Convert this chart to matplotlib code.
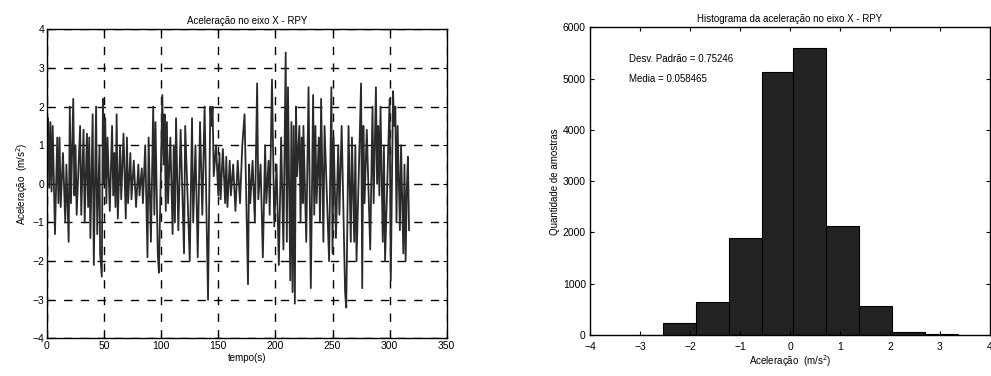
import numpy as np
import matplotlib
matplotlib.use("Agg")
import matplotlib.pyplot as plt

plt.rcParams['font.family'] = ['Liberation Sans', 'DejaVu Sans']

# picos e vales (tempo em s, aceleracao em m/s^2)
tempo = [0, 1, 2, 3, 4, 5, 7, 9, 10, 11, 12, 14, 16, 17, 19, 20, 21, 23, 24, 25, 26,
         29, 30, 32, 33, 35, 36, 37, 38, 40, 41, 43, 44, 46, 46.5, 48, 49, 50, 51, 52,
         53, 55, 57, 58, 59, 60, 61, 62, 64, 65, 67, 69, 70, 71, 73, 74, 76, 78, 80, 81,
         83, 84, 86, 88, 89, 91, 93, 94, 95, 97, 98, 101, 102, 103, 104, 105, 106, 108,
         110, 111, 112, 113, 115, 117, 120, 121, 125, 127, 128, 130, 132, 134, 136, 138,
         141, 143, 144, 145, 146, 148, 150, 151, 152, 154, 156, 157, 158, 160, 161, 163,
         165, 167, 169, 171, 173, 176, 177, 178, 180, 182, 184, 185, 187, 189, 191, 192,
         194, 195, 197, 199, 201, 203, 205, 207, 209, 210, 211, 213, 214, 215, 216, 217,
         218, 219, 221, 222, 223, 224, 224.5, 227, 229, 231, 233, 234, 235, 236, 238, 239,
         240, 242, 243, 247, 249, 250, 251, 253, 255, 256, 258, 261, 262, 263, 264, 266,
         267, 269, 270, 271, 275, 276, 277, 278, 280, 283, 285, 286, 288, 289, 290, 291,
         292, 294, 295, 296, 300, 301, 303, 304, 305, 306, 307, 309, 310, 312, 313, 314,
         315, 316, 317]
acel = [0.5, 1.7, -0.1, 1.6, -0.2, 1.5, -1.3, 1.2, -0.5, 1.2, -0.6, 0.8, -1.0, 0.5, -1.5,
        2.0, -0.5, 2.2, -0.3, 1.0, -0.8, 1.5, -0.8, 1.4, -1.0, 1.3, -0.6, 1.2, -1.4, 1.8,
        -2.1, 2.0, -1.3, 1.0, -1.8, -2.4, 2.2, 0.0, 1.7, -0.5, 1.2, -0.7, 1.5, -0.3, 0.8,
        -0.6, 1.8, -0.9, 1.0, -0.4, 1.3, -0.9, 1.2, -0.5, 0.8, -0.4, 0.6, -0.6, 0.5, -0.3,
        0.4, -0.5, 1.0, -1.9, 1.2, -1.5, 2.0, -0.8, 1.6, -1.8, -2.3, 2.3, 0.5, 1.8, -0.7,
        1.6, -0.5, 1.2, -1.3, 1.0, -1.0, 1.7, -1.2, 1.4, -1.8, 1.5, -2.0, 1.7, -1.0, 1.0,
        -1.9, 1.6, -0.8, 2.0, -3.0, 2.0, 1.5, 2.0, 0.2, 1.0, -0.3, 0.8, -0.4, 0.9, -0.5,
        0.7, -0.6, 0.6, -0.3, 0.5, -0.7, 0.6, -0.5, 1.0, 1.8, -2.6, 0.5, -0.5, 0.6, -1.0,
        2.6, -0.4, 0.5, -1.9, 1.0, -0.5, 0.6, -0.8, 2.7, -1.1, 0.5, -2.1, 1.2, -1.7, 3.4,
        -1.5, 2.5, -2.5, 1.6, -2.8, 1.5, -3.1, 2.0, 0.2, 1.5, -1.0, 1.2, -0.5, 1.5, -1.5,
        2.5, -2.7, 2.3, -0.8, 1.5, -0.5, 1.2, -1.0, 2.2, -1.5, 1.5, -2.0, 2.5, -1.8, 1.2,
        -1.4, 1.0, -0.8, 1.5, -2.8, -3.2, -1.0, 1.5, -1.5, 1.2, -1.5, 1.0, -2.0, 2.6,
        -2.7, 1.5, -0.5, 1.4, -1.7, 2.0, -0.5, 2.5, 0.0, 1.5, -0.3, 2.0, -1.5, 1.0, -2.0,
        2.2, -2.5, 2.4, 1.5, 2.0, -1.0, 1.5, -1.2, 1.0, -1.8, 0.5, -2.0, -0.2, 0.7, -1.2]

# histograma
bordas = [-3.2, -2.54, -1.89, -1.23, -0.57, 0.05, 0.71, 1.38, 2.04, 2.7, 3.36]
contagem = [10, 230, 640, 1885, 5130, 5590, 2125, 565, 65, 20]

fs = 7
fig = plt.figure(figsize=(9.91, 3.76), dpi=100)

ax1 = fig.add_axes([0.0474, 0.100, 0.4034, 0.822])
ax1.plot(tempo, acel, color='#2a2a2a', lw=1.3)
ax1.set_xlim(0, 350)
ax1.set_ylim(-4, 4)
ax1.set_xticks(np.arange(0, 351, 50))
ax1.set_yticks(np.arange(-4, 5, 1))
ax1.grid(True, color='black', linestyle=(0, (6, 6)), lw=1.0)
ax1.set_title('Aceleração no eixo X - RPY', fontsize=fs, pad=4)
ax1.set_xlabel('tempo(s)', fontsize=fs, labelpad=1)
ax1.set_ylabel('Aceleração  (m/s$^2$)', fontsize=fs, labelpad=2)

ax2 = fig.add_axes([0.5954, 0.109, 0.4036, 0.818])
larg = np.diff(bordas)
ax2.bar(bordas[:-1], contagem, width=larg, align='edge', color='#222222',
        edgecolor='black', lw=0.8)
ax2.set_xlim(-4, 4)
ax2.set_ylim(0, 6000)
ax2.set_xticks(np.arange(-4, 5, 1))
ax2.set_yticks(np.arange(0, 6001, 1000))
ax2.set_title('Histograma da aceleração no eixo X - RPY', fontsize=fs, pad=4)
ax2.set_xlabel('Aceleração  (m/s$^2$)', fontsize=fs, labelpad=1)
ax2.set_ylabel('Quantidade de amostras', fontsize=fs, labelpad=2)
ax2.text(-3.22, 5380, 'Desv. Padrão = 0.75246', fontsize=fs, va='center')
ax2.text(-3.22, 4990, 'Media = 0.058465', fontsize=fs, va='center')

for ax in (ax1, ax2):
    ax.tick_params(direction='in', length=3, labelsize=7.5, top=True, right=True, pad=2)
    for s in ax.spines.values():
        s.set_linewidth(1.0)
ax2.tick_params(axis='x', pad=5)
ax2.tick_params(axis='y', pad=3)

fig.savefig('out.png', dpi=100)
